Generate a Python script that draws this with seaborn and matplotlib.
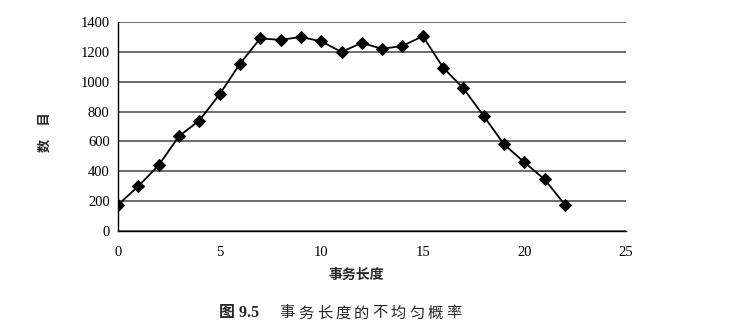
import matplotlib
matplotlib.use("Agg")
import matplotlib.pyplot as plt
import seaborn as sns
import pandas as pd

# Data
lengths = list(range(0, 23))
counts = [175, 300, 440, 635, 740, 915, 1120, 1290, 1280, 1300, 1270, 1200,
          1260, 1220, 1240, 1305, 1095, 955, 770, 580, 460, 345, 175]
x_ticks = [0, 5, 10, 15, 20, 25]
y_ticks = [0, 200, 400, 600, 800, 1000, 1200, 1400]
x_label = "事务长度"
y_label = "数　目"
caption_num = "图 9.5"
caption_text = "事务长度的不均匀概率"

sns.set_style("white")
plt.rcParams['font.family'] = ['Liberation Serif', 'Noto Sans CJK SC', 'DejaVu Sans']

df = pd.DataFrame({"len": lengths, "cnt": counts})

W, H = 753, 328
fig = plt.figure(figsize=(W / 100, H / 100), dpi=100)
ax = fig.add_axes([118 / W, (H - 231) / H, (626 - 118) / W, (231 - 22) / H])

sns.lineplot(data=df, x="len", y="cnt", ax=ax, color="black", linewidth=1.3,
             marker="D", markersize=6.5, markeredgecolor="black",
             markerfacecolor="black")

ax.set_xlim(0, 25)
ax.set_ylim(0, 1400)
ax.set_xticks(x_ticks)
ax.set_yticks(y_ticks)
ax.yaxis.grid(True, color="#444444", linewidth=1.1)
ax.xaxis.grid(False)
ax.set_axisbelow(True)
for s in ["top", "right"]:
    ax.spines[s].set_visible(False)
for s in ["left", "bottom"]:
    ax.spines[s].set_color("black")
    ax.spines[s].set_linewidth(1.0)
ax.tick_params(axis="both", direction="out", length=3, width=1, colors="black",
               labelsize=10.5)
ax.tick_params(axis="x", pad=8)
ax.tick_params(axis="y", pad=3)
ax.set_xlabel("")
ax.set_ylabel("")

fig.text(356 / W, 1 - 275 / H, x_label, ha="center", va="center",
         family=['Noto Sans CJK SC'], fontsize=10, fontweight='bold')
fig.text(45 / W, 1 - 132 / H, y_label, rotation=90, ha="center", va="center",
         family=['Noto Sans CJK SC'], fontsize=9.5, fontweight='bold')
fig.text(259 / W, 1 - 313 / H, caption_num, ha="right", va="center",
         family=['Liberation Serif', 'Noto Sans CJK SC'], fontsize=11.5,
         fontweight='bold')
# caption characters spaced out as in the reference
step = (463 - 278) / len(caption_text)
for i, ch in enumerate(caption_text):
    fig.text((278 + step * (i + 0.5)) / W, 1 - 313 / H, ch, ha="center",
             va="center", family=['Noto Sans CJK SC'], fontsize=11)

fig.savefig("out.png", dpi=100)
